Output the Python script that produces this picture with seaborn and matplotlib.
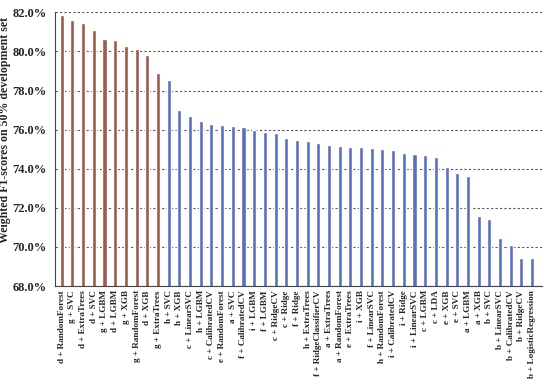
import matplotlib
matplotlib.use("Agg")
import matplotlib.pyplot as plt
import numpy as np
import pandas as pd
import seaborn as sns
from matplotlib.ticker import FuncFormatter

# Weighted F1 scores per feature set + classifier
labels = [
    "d + RandomForest", "g + SVC", "d + ExtraTrees", "d + SVC", "g + LGBM",
    "d + LGBM", "g + XGB", "g + RandomForest", "d + XGB", "g + ExtraTrees",
    "h + SVC", "h + XGB", "c + LinearSVC", "h + LGBM", "c + CalibratedCV",
    "e + RandomForest", "a + SVC", "f + CalibratedCV", "i + LGBM", "f + LGBM",
    "c + RidgeCV", "c + Ridge", "f + Ridge", "h + ExtraTrees", "f + RidgeClassifierCV",
    "a + ExtraTrees", "a + RandomForest", "e + ExtraTrees", "i + XGB", "f + LinearSVC",
    "h + RandomForest", "i + CalibratedCV", "i + Ridge", "i + LinearSVC", "c + LGBM",
    "c + LDA", "e + XGB", "e + SVC", "a + LGBM", "a + XGB",
    "b + SVC", "b + LinearSVC", "b + CalibratedCV", "b + RidgeCV", "b + LogisticRegression",
]
scores = [
    81.86, 81.61, 81.44, 81.11, 80.64, 80.60, 80.27, 80.11, 79.84, 78.89,
    78.56, 77.02, 76.71, 76.42, 76.29, 76.23, 76.16, 76.12, 75.96, 75.89,
    75.82, 75.55, 75.45, 75.43, 75.33, 75.21, 75.14, 75.12, 75.09, 75.08,
    75.00, 74.95, 74.80, 74.75, 74.69, 74.61, 74.10, 73.76, 73.64, 71.58,
    71.45, 70.45, 70.08, 69.43, 69.43,
]
groups = ["top"] * 10 + ["rest"] * 35
colors = {"top": "#9C5A4A", "rest": "#5A6FBF"}

df = pd.DataFrame({"label": labels, "score": scores, "group": groups})

sns.set_style("white")
plt.rcParams["font.family"] = ["Liberation Serif", "DejaVu Serif"]
plt.rcParams["font.weight"] = "bold"

fig, ax = plt.subplots(figsize=(5.5, 3.84), dpi=100)
fig.subplots_adjust(left=0.1, right=0.985, top=0.968, bottom=0.255)

sns.barplot(data=df, x="label", y="score", hue="group", palette=colors,
            dodge=False, width=0.38, legend=False, ax=ax, saturation=1)

ax.set_ylim(68, 82)
ax.set_xlim(-0.63, 44.9)
ax.set_yticks(np.arange(68, 82.1, 2))
ax.yaxis.set_major_formatter(FuncFormatter(lambda v, p: f"{v:.1f}%"))
ax.grid(axis="y", linestyle=(0, (2, 2)), color="#555555", linewidth=0.8)
ax.set_axisbelow(True)

ax.set_xlabel("")
ax.set_ylabel("Weighted F1-scores on 50% development set", fontsize=8.6,
              fontweight="bold")
ax.yaxis.set_label_coords(-0.09, 0.57)
ax.tick_params(axis="y", labelsize=9, length=0, pad=6)
ax.tick_params(axis="x", labelsize=6.6, length=0, pad=3)
for t in ax.get_xticklabels():
    t.set_rotation(90)
    t.set_fontweight("bold")
for t in ax.get_yticklabels():
    t.set_fontweight("bold")

sns.despine(ax=ax, top=True, right=True)
for s in ["left", "bottom"]:
    ax.spines[s].set_color("#444444")
    ax.spines[s].set_linewidth(0.8)

fig.savefig("out.png", dpi=100)
